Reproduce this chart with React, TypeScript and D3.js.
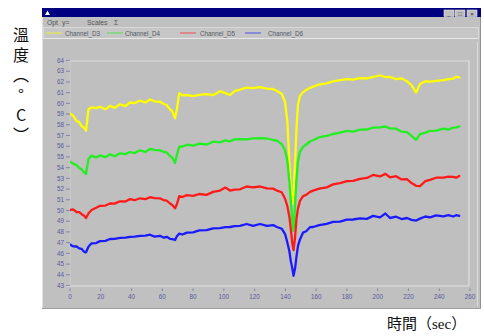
import * as d3 from "d3";

// time axis (seconds), shared by all four channels
const timeSec = [
  0, 2, 4.3, 6, 7.6, 9, 10.4, 12,
  14, 17, 19.5, 23, 26, 29, 32.5, 36,
  39, 42, 45.5, 49, 52, 55, 58.5, 61,
  62.8, 65, 66.5, 68.3, 69.5, 71, 73, 76,
  80, 84, 88.8, 93, 97.5, 101, 104, 107,
  110.5, 114.8, 119, 123.5, 128, 132, 134.5, 137.6,
  139.8, 141.3, 142.6, 143.5, 144.5, 145.3, 146.3, 147.2,
  148.2, 149.5, 151.5, 153.5, 156, 158, 162, 166.8,
  171, 175.5, 180, 184, 188.5, 193, 197, 201.5,
  205, 208, 212, 215.5, 219, 222, 225, 227.5,
  231, 234, 238, 242.7, 246, 249, 251, 253,
];

const channelD3 = [
  59.05, 58.85, 58.35, 58.25, 57.85, 57.75, 57.45, 59.45,
  59.62, 59.55, 59.68, 59.45, 59.76, 59.58, 59.92, 59.74,
  60.08, 60.02, 60.26, 60.08, 60.36, 60.18, 60.15, 59.94,
  59.85, 59.45, 59.25, 58.6, 59.5, 60.95, 60.74, 60.78,
  60.68, 60.8, 60.86, 60.76, 61.14, 60.96, 60.78, 61.15,
  61.28, 61.46, 61.42, 61.52, 61.38, 61.34, 61.15, 60.9,
  60.1, 58.3, 54.5, 52.0, 50.6, 51.5, 54.5, 57.6,
  59.9, 60.7, 61.05, 61.25, 61.45, 61.56, 61.76, 61.86,
  62.06, 62.16, 62.26, 62.22, 62.36, 62.34, 62.46, 62.62,
  62.44, 62.46, 62.26, 62.34, 62.06, 61.7, 61.0, 61.8,
  62.06, 62.02, 62.1, 62.16, 62.26, 62.3, 62.48, 62.42,
];

const channelD4 = [
  54.56, 54.38, 54.24, 53.96, 53.84, 53.58, 53.4, 54.82,
  55.12, 54.96, 55.14, 54.98, 55.24, 55.06, 55.34, 55.26,
  55.46, 55.36, 55.62, 55.46, 55.74, 55.66, 55.62, 55.46,
  55.42, 55.08, 54.92, 54.45, 55.2, 55.95, 55.96, 56.14,
  56.06, 56.24, 56.16, 56.42, 56.36, 56.54, 56.46, 56.64,
  56.66, 56.64, 56.74, 56.76, 56.72, 56.58, 56.52, 56.2,
  55.6, 54.6, 52.7, 51.0, 49.0, 48.1, 50.5, 52.8,
  54.6, 55.5, 55.94, 56.16, 56.44, 56.56, 56.84, 56.96,
  57.14, 57.26, 57.44, 57.36, 57.54, 57.56, 57.74, 57.76,
  57.84, 57.66, 57.64, 57.36, 57.32, 56.96, 56.6, 57.12,
  57.26, 57.44, 57.46, 57.64, 57.56, 57.74, 57.76, 57.84,
];

const channelD5 = [
  50.06, 50.1, 49.86, 49.84, 49.66, 49.54, 49.3, 49.72,
  50.04, 50.26, 50.44, 50.46, 50.66, 50.64, 50.86, 50.84,
  51.06, 50.96, 51.14, 51.06, 51.24, 51.16, 51.14, 50.96,
  50.92, 50.66, 50.52, 50.2, 50.6, 51.34, 51.26, 51.44,
  51.36, 51.54, 51.46, 51.74, 51.86, 52.14, 51.86, 51.94,
  51.98, 52.24, 52.16, 52.24, 52.06, 52.04, 51.86, 51.7,
  51.1, 50.4, 49.4, 48.3, 46.9, 46.3, 47.5, 49.2,
  50.2, 50.9, 51.34, 51.46, 51.74, 51.86, 52.04, 52.16,
  52.44, 52.56, 52.74, 52.76, 52.96, 53.04, 53.32, 53.18,
  53.42, 53.1, 53.2, 52.9, 52.92, 52.56, 52.3, 52.28,
  52.74, 52.86, 53.06, 53.06, 53.16, 53.14, 53.06, 53.22,
];

const channelD6 = [
  46.82, 46.66, 46.64, 46.46, 46.42, 46.16, 46.1, 46.62,
  46.94, 46.96, 47.14, 47.16, 47.34, 47.36, 47.44, 47.46,
  47.54, 47.56, 47.64, 47.66, 47.74, 47.56, 47.64, 47.46,
  47.54, 47.36, 47.32, 47.25, 47.6, 47.84, 47.76, 47.94,
  47.96, 48.14, 48.16, 48.34, 48.36, 48.44, 48.46, 48.54,
  48.56, 48.74, 48.56, 48.74, 48.56, 48.64, 48.46, 48.3,
  47.8, 47.0, 46.2, 45.3, 44.6, 43.9, 44.6, 45.7,
  46.7, 47.3, 47.94, 48.06, 48.44, 48.46, 48.64, 48.76,
  48.94, 48.96, 49.14, 49.16, 49.26, 49.22, 49.5, 49.36,
  49.72, 49.3, 49.42, 49.2, 49.3, 49.12, 49.06, 49.24,
  49.44, 49.36, 49.54, 49.46, 49.56, 49.44, 49.56, 49.5,
];

const seriesNames = ["Channel_D3", "Channel_D4", "Channel_D5", "Channel_D6"];
const seriesValues = [channelD3, channelD4, channelD5, channelD6];
const yTickValues = [43, 44, 45, 46, 47, 48, 49, 50, 51, 52, 53, 54, 55, 56, 57, 58, 59, 60, 61, 62, 63, 64];
const xTickValues = [0, 20, 40, 60, 80, 100, 120, 140, 160, 180, 200, 220, 240, 260];
const menuItems = ["Opt", "y=", "Scales", "Σ"];
const yTitle = "溫度（°C）";
const xTitle = "時間（sec）";

const colors = ["#ffff00", "#22ee22", "#ff1a1a", "#1a1aff"];
const gray = "#c0c0c0";
const axisText = "#5a5aa0";

export default function App() {
  const width = 484;
  const height = 336;
  const win = { left: 42, right: 481, top: 8, bottom: 309 };
  const plot = { left: 70, right: 470, top: 60.5, bottom: 285.5 };

  const x = d3.scaleLinear().domain([0, 260]).range([plot.left, plot.right]);
  const y = d3.scaleLinear().domain([43, 64]).range([plot.bottom, plot.top]);

  const line = d3.line<number>()
    .x((_, i) => x(timeSec[i]))
    .y(d => y(d));

  // legend layout (line start, text start)
  const legendLineX = [46, 107, 180, 245];
  const legendTextX = [65, 125, 200, 268];
  const menuX = [47, 62, 87, 114];

  return (
    <svg width={width} height={height} style={{ position: "absolute", left: 0, top: 0, background: "#fff" }}
      fontFamily="'Liberation Sans', Arial, sans-serif">
      {/* window body */}
      <rect x={win.left} y={win.top} width={win.right - win.left} height={win.bottom - win.top} fill={gray} />
      <line x1={win.left + 0.5} y1={win.top} x2={win.left + 0.5} y2={win.bottom} stroke="#e0e0e0" />
      <line x1={win.right - 0.5} y1={win.top} x2={win.right - 0.5} y2={win.bottom} stroke="#909090" />
      <line x1={win.left} y1={win.bottom - 0.5} x2={win.right} y2={win.bottom - 0.5} stroke="#a0a0a0" />

      {/* title bar */}
      <rect x={win.left} y={win.top} width={win.right - win.left} height={9} fill="#000080" />
      <path d={`M${45},${15} L${47.5},${10.5} L${50},${15} Z`} fill="#fff" />
      {[444, 455, 467].map((bx, i) => (
        <g key={i}>
          <rect x={bx} y={10} width={10} height={6.5} fill={gray} stroke="#e8e8e8" strokeWidth={0.6} />
          <text x={bx + 5} y={15.5} fontSize={6} textAnchor="middle" fill="#222">{["_", "□", "×"][i]}</text>
        </g>
      ))}

      {/* menu */}
      {menuItems.map((m, i) => (
        <text key={m} x={menuX[i]} y={24.5} fontSize={6.8} fill="#555">{m}</text>
      ))}

      {/* legend bar */}
      <rect x={win.left + 1.5} y={27.5} width={win.right - win.left - 4} height={11} fill="#c6c6c6" stroke="#dedede" strokeWidth={0.8} />
      <line x1={win.left + 1.5} y1={38.5} x2={win.right - 2.5} y2={38.5} stroke="#e8e8e8" />
      {seriesNames.map((name, i) => (
        <g key={name}>
          <line x1={legendLineX[i]} x2={legendLineX[i] + 16} y1={33} y2={33} stroke={colors[i]} strokeWidth={1} opacity={0.7} />
          <text x={legendTextX[i]} y={35.5} fontSize={6.3} fill="#555866">{name}</text>
        </g>
      ))}

      {/* plot frame */}
      <rect x={plot.left} y={plot.top} width={plot.right - plot.left} height={plot.bottom - plot.top} fill="#bfbfbf" />
      <line x1={plot.left - 3} x2={plot.right - 1} y1={plot.top + 0.5} y2={plot.top + 0.5} stroke="#dcdcdc" />
      <line x1={plot.right - 1} x2={plot.right - 1} y1={plot.top} y2={plot.bottom} stroke="#e6e6e6" />
      <line x1={plot.left - 4} x2={plot.right - 1} y1={plot.bottom + 0.5} y2={plot.bottom + 0.5} stroke="#e2e2e2" />
      <line x1={plot.left} x2={plot.left} y1={plot.top} y2={plot.bottom} stroke="#cdcdcd" />
      <line x1={win.right - 3.5} x2={win.right - 3.5} y1={42} y2={306} stroke="#dcdcdc" />

      {/* y axis */}
      {yTickValues.map(t => (
        <g key={t}>
          <line x1={plot.left - 4} x2={plot.left} y1={y(t)} y2={y(t)} stroke={axisText} strokeWidth={0.6} />
          <text x={plot.left - 6} y={y(t)} dy="0.35em" fontSize={6.3} textAnchor="end" fill={axisText}>{t}</text>
        </g>
      ))}

      {/* x axis */}
      {xTickValues.map(t => (
        <g key={t}>
          <line x1={x(t)} x2={x(t)} y1={plot.bottom + 3} y2={plot.bottom + 5.5} stroke={axisText} strokeWidth={0.6} />
          <text x={x(t)} y={plot.bottom + 13} fontSize={6.3} textAnchor="middle" fill={axisText}>{t}</text>
        </g>
      ))}

      {/* channels */}
      <clipPath id="plotClip">
        <rect x={plot.left} y={plot.top} width={plot.right - plot.left} height={plot.bottom - plot.top} />
      </clipPath>
      <g clipPath="url(#plotClip)">
        {seriesValues.map((vals, i) => (
          <path key={i} d={line(vals) ?? ""} fill="none" stroke={colors[i]} strokeWidth={2.3}
            strokeLinejoin="round" strokeLinecap="round" />
        ))}
      </g>

      {/* outer titles */}
      <text x={21} y={27} fontSize={16} fill="#111" letterSpacing={4}
        fontFamily="'Noto Sans CJK TC', serif"
        style={{ writingMode: "vertical-rl", textOrientation: "upright" }}>{yTitle}</text>
      <text x={387} y={329} fontSize={15} fill="#111" fontFamily="'Liberation Serif', 'Noto Sans CJK TC', serif">{xTitle}</text>
    </svg>
  );
}
